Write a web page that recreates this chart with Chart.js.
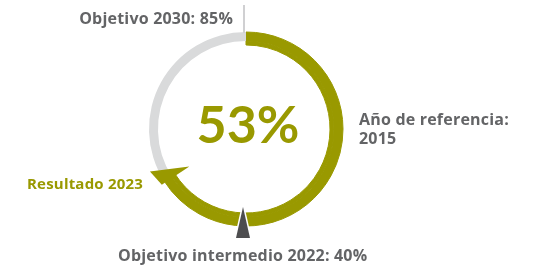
<!DOCTYPE html>
<html>
<head>
<meta charset="utf-8">
<script src="https://cdn.jsdelivr.net/npm/chart.js@4.4.1/dist/chart.umd.min.js"></script>
<style>
  html, body { margin: 0; padding: 0; background: #ffffff; }
  #wrap { width: 535px; height: 265px; }
</style>
</head>
<body>
<div id="wrap"><canvas id="chart" width="535" height="265"></canvas></div>
<script>
// share of the circle covered so far vs. left until the 2030 goal
const segments = ['Resultado 2023', 'Pendiente hasta 2030'];
const arcValues = [66, 34];
const centerText = '53%';
const goalLabel = 'Objetivo 2030: 85%';
const baseLabel = ['Año de referencia:', '2015'];
const resultLabel = 'Resultado 2023';
const midLabel = 'Objetivo intermedio 2022: 40%';

const OLIVE = '#999900';
const RING_GREY = '#d9dadb';
const TEXT_GREY = '#636466';
const MARK_GREY = '#4d4d4f';
const FONT = '"Open Sans", Lato, sans-serif';

const annotations = {
    id: 'annotations',
    afterDatasetsDraw(chart) {
        const ctx = chart.ctx;
        const arcs = chart.getDatasetMeta(0).data;
        const inner = chart.getDatasetMeta(1).data[0];
        const cx = arcs[0].x, cy = arcs[0].y;
        const rOut = arcs[0].outerRadius;
        const rIn = inner.innerRadius;
        const endA = arcs[0].endAngle;
        const pt = (a, r) => [cx + r * Math.cos(a), cy + r * Math.sin(a)];

        ctx.save();

        // tick line up to the 2030 goal
        ctx.strokeStyle = '#d0d0d2';
        ctx.lineWidth = 2;
        ctx.beginPath();
        ctx.moveTo(cx - 2, cy - rOut + 1);
        ctx.lineTo(cx - 2, cy - rOut - 27);
        ctx.stroke();

        // arrow head at the end of the result arc
        const a1 = pt(endA - 0.02, rIn - 16);
        const a2 = pt(endA - 0.02, rOut + 4);
        const tip = pt(endA + 0.15, rOut + 8);
        ctx.fillStyle = OLIVE;
        ctx.beginPath();
        ctx.moveTo(a1[0], a1[1]);
        ctx.lineTo(tip[0], tip[1]);
        ctx.lineTo(a2[0], a2[1]);
        ctx.closePath();
        ctx.fill();

        // marker for the 2022 midpoint
        const bx = cx - 3;
        ctx.beginPath();
        ctx.moveTo(bx, cy + 78);
        ctx.lineTo(bx - 7, cy + 109);
        ctx.lineTo(bx + 7, cy + 109);
        ctx.closePath();
        ctx.strokeStyle = '#ffffff';
        ctx.lineWidth = 3;
        ctx.stroke();
        ctx.fillStyle = MARK_GREY;
        ctx.fill();

        // centre value
        ctx.fillStyle = OLIVE;
        ctx.font = 'bold 52px Lato, sans-serif';
        ctx.textAlign = 'center';
        ctx.textBaseline = 'alphabetic';
        ctx.fillText(centerText, cx + 2, cy + 14);

        ctx.font = 'bold 16px ' + FONT;
        ctx.letterSpacing = '0.2px';
        ctx.fillStyle = TEXT_GREY;
        ctx.textAlign = 'right';
        ctx.fillText(goalLabel, 233, 24);

        ctx.textAlign = 'left';
        ctx.fillText(baseLabel[0], 359, 125);
        ctx.fillText(baseLabel[1], 359, 144);
        ctx.fillText(midLabel, 118, 261);

        ctx.font = 'bold 15px ' + FONT;
        ctx.fillStyle = OLIVE;
        ctx.fillText(resultLabel, 27, 189);

        ctx.restore();
    }
};

const data = {
    labels: segments,
    datasets: [{
        data: arcValues,
        backgroundColor: [OLIVE, RING_GREY],
        borderColor: [OLIVE, RING_GREY],
        borderWidth: [1, 0],
        weight: 9
    }, {
        data: arcValues,
        backgroundColor: [OLIVE, 'rgba(0,0,0,0)'],
        borderColor: [OLIVE, 'rgba(0,0,0,0)'],
        borderWidth: [1, 0],
        weight: 4
    }]
};

const config = {
    type: 'doughnut',
    data,
    options: {
        responsive: false,
        animation: false,
        radius: 97,
        cutout: '86.6%',
        layout: {
            padding: { left: 0, right: 43, top: 0, bottom: 7 }
        },
        plugins: {
            legend: { display: false },
            tooltip: { enabled: false }
        }
    },
    plugins: [annotations]
};

const ctx = document.getElementById('chart').getContext('2d');
const myChart = new Chart(ctx, config);
</script>
</body>
</html>
